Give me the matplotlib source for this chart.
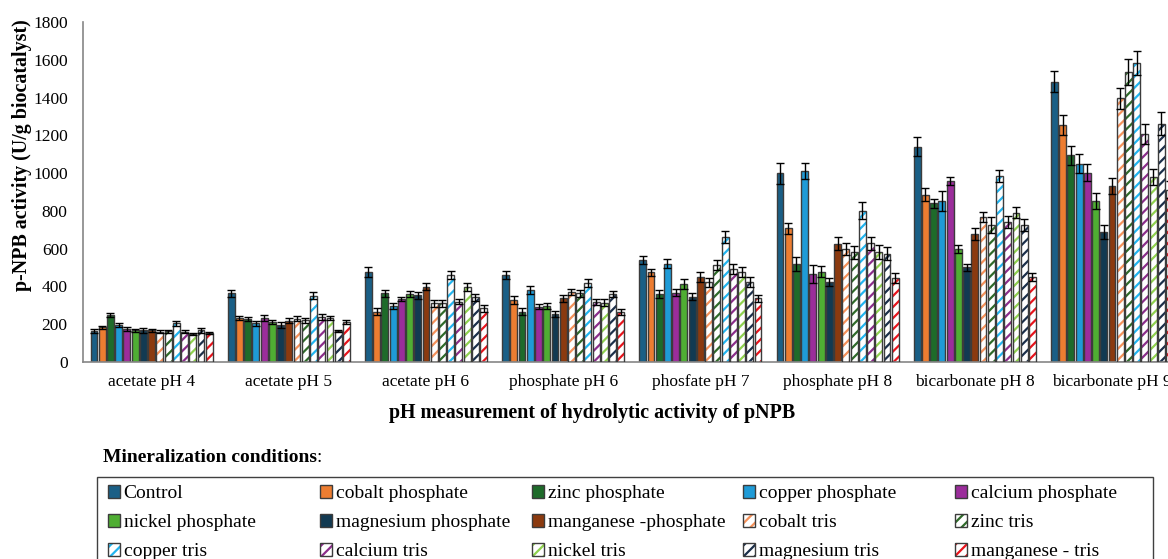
import matplotlib.pyplot as plt
import numpy as np
from matplotlib.patches import Patch, Rectangle

categories = ["acetate pH 4", "acetate pH 5", "acetate pH 6", "phosphate pH 6",
              "phosfate pH 7", "phosphate pH 8", "bicarbonate pH 8", "bicarbonate pH 9"]

series_names = ["Control", "cobalt phosphate", "zinc phosphate", "copper phosphate",
                "calcium phosphate", "nickel phosphate", "magnesium phosphate",
                "manganese -phosphate", "cobalt tris", "zinc tris", "copper tris",
                "calcium tris", "nickel tris", "magnesium tris", "manganese - tris"]

series_colors = ["#1a5f86", "#ed7d31", "#1e6b2a", "#1f9bd7", "#9b2d9b", "#4fae33",
                 "#123a52", "#8b3a0f", "#f4915a", "#2f6b2a", "#22b5f0", "#8b2d8b",
                 "#8fd14f", "#1b2f4a", "#e8141c"]

hatched = [False] * 8 + [True] * 7

# one row per series, one value per pH category
values = [
    [164, 364, 476, 462, 540, 999, 1140, 1484],
    [184, 235, 266, 328, 476, 708, 886, 1256],
    [249, 229, 364, 266, 360, 520, 840, 1094],
    [196, 205, 296, 381, 520, 1013, 854, 1050],
    [176, 235, 332, 293, 367, 466, 960, 1002],
    [168, 212, 360, 298, 411, 478, 598, 851],
    [167, 194, 353, 254, 346, 424, 501, 688],
    [167, 219, 399, 337, 452, 626, 678, 932],
    [159, 229, 311, 369, 422, 600, 766, 1396],
    [163, 221, 311, 364, 513, 581, 727, 1535],
    [205, 351, 462, 417, 663, 801, 986, 1583],
    [161, 238, 319, 319, 491, 628, 741, 1207],
    [147, 235, 397, 314, 476, 581, 790, 979],
    [167, 164, 342, 360, 425, 573, 725, 1261],
    [152, 213, 284, 263, 337, 445, 452, 911],
]

errors = [
    [9, 18, 25, 21, 23, 56, 49, 55],
    [9, 11, 18, 21, 19, 30, 34, 53],
    [12, 11, 18, 18, 19, 37, 25, 49],
    [12, 12, 18, 21, 23, 42, 53, 49],
    [11, 16, 11, 14, 19, 48, 21, 46],
    [9, 11, 14, 16, 26, 30, 19, 42],
    [11, 16, 18, 18, 18, 23, 19, 35],
    [10, 12, 18, 19, 26, 35, 34, 44],
    [8, 14, 18, 16, 23, 32, 26, 56],
    [8, 12, 18, 18, 26, 35, 42, 71],
    [14, 19, 21, 21, 32, 44, 32, 64],
    [8, 14, 14, 16, 26, 35, 30, 55],
    [6, 11, 19, 18, 25, 37, 28, 42],
    [11, 7, 18, 18, 26, 35, 30, 60],
    [6, 12, 18, 16, 18, 25, 21, 45],
]

plt.rcParams["font.family"] = ["Liberation Serif", "DejaVu Serif"]
plt.rcParams["hatch.linewidth"] = 1.6

W, H = 1168, 559
fig = plt.figure(figsize=(W / 100, H / 100), dpi=100)

# axes extend past the right edge, like the cropped original
ax_left, ax_right, ax_top, ax_bottom = 83, 1180.6, 22, 362
ax = fig.add_axes([ax_left / W, 1 - ax_bottom / H,
                   (ax_right - ax_left) / W, (ax_bottom - ax_top) / H])

x = np.arange(len(categories))
n = len(series_names)
slot = 0.9 / n
bar_w = slot * 0.84
edge = "#3c3c3c"

handles = []
for i in range(n):
    pos = x + (i - (n - 1) / 2) * slot
    c = series_colors[i]
    if hatched[i]:
        ax.bar(pos, values[i], bar_w, facecolor="white", edgecolor=c,
               hatch="///", linewidth=0, zorder=2)
        ax.bar(pos, values[i], bar_w, fill=False, edgecolor=edge,
               linewidth=1.0, zorder=3)
        h = (Patch(facecolor="white", edgecolor=c, hatch="///", linewidth=0),
             Patch(fill=False, edgecolor=edge, linewidth=1.0))
    else:
        ax.bar(pos, values[i], bar_w, color=c, edgecolor=edge,
               linewidth=1.0, zorder=2)
        h = Patch(facecolor=c, edgecolor=edge, linewidth=1.0)
    ax.errorbar(pos, values[i], yerr=errors[i], fmt="none", ecolor="black",
                elinewidth=1.0, capsize=2.6, capthick=1.0, zorder=4)
    handles.append(h)

ax.set_xlim(-0.5, len(categories) - 0.5)
ax.set_ylim(0, 1800)
ax.set_yticks(np.arange(0, 1801, 200))
ax.set_xticks(x)
ax.set_xticklabels(categories)
ax.tick_params(axis="both", length=0, labelsize=12.5)
ax.tick_params(axis="y", pad=11)
ax.tick_params(axis="x", pad=9)
for s in ["top", "right"]:
    ax.spines[s].set_visible(False)
for s in ["left", "bottom"]:
    ax.spines[s].set_color("#868686")
    ax.spines[s].set_linewidth(1.2)

fig.text(22 / W, 1 - 155 / H, "p-NPB activity (U/g biocatalyst)", fontsize=14.4,
         fontweight="bold", rotation=90, ha="center", va="center")
fig.text(592 / W, 1 - 413 / H, "pH measurement of hydrolytic activity of pNPB",
         fontsize=14.4, fontweight="bold", ha="center", va="center")

t = fig.text(103 / W, 1 - 457 / H, "Mineralization conditions", fontsize=14,
             fontweight="bold", ha="left", va="center")
r = fig.canvas.get_renderer()
bb = t.get_window_extent(r)
fig.text(bb.x1 / W, 1 - 457 / H, ":", fontsize=14, ha="left", va="center")

# legend frame (bottom is cut off by the figure edge)
fig.add_artist(Rectangle((97 / W, 1 - 575 / H), (1153 - 97) / W, (575 - 477) / H,
                         transform=fig.transFigure, fill=False,
                         edgecolor="#404040", linewidth=1.0))

ncol = 5
col_x = [108, 320, 532, 743, 955]
for j in range(ncol):
    idx = [j + ncol * k for k in range(3)]
    fig.legend([handles[k] for k in idx], [series_names[k] for k in idx],
               loc="upper left", bbox_to_anchor=(col_x[j] / W, 1 - 485 / H),
               frameon=False, fontsize=14, borderpad=0, borderaxespad=0,
               handlelength=0.62, handleheight=0.62, handletextpad=0.18,
               labelspacing=0.61)

fig.savefig("out.png", dpi=100)
